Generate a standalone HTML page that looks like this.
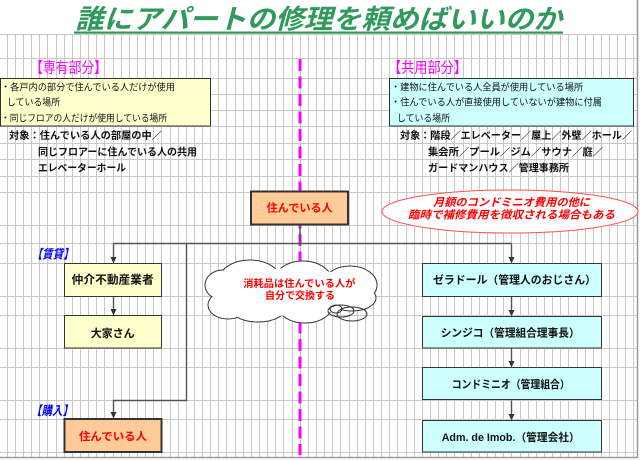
<!DOCTYPE html>
<html><head><meta charset="utf-8">
<style>
html,body{margin:0;padding:0;background:#fff;}
svg{display:block;}
text{font-family:"Liberation Sans","Noto Sans CJK JP",sans-serif;}
</style></head>
<body>
<svg width="640" height="460" viewBox="0 0 640 460" xmlns="http://www.w3.org/2000/svg">
<rect x="0" y="0" width="640" height="460" fill="#fff"/>
<!-- grid -->
<path stroke="#c8c8c8" stroke-width="1" fill="none" d="M7.5 34V457M15.5 34V457M23.5 34V457M31.5 34V457M39.5 34V457M47.5 34V457M56.5 34V457M64.5 34V457M72.5 34V457M80.5 34V457M88.5 34V457M96.5 34V457M104.5 34V457M113.5 34V457M121.5 34V457M129.5 34V457M137.5 34V457M145.5 34V457M153.5 34V457M161.5 34V457M170.5 34V457M178.5 34V457M186.5 34V457M194.5 34V457M202.5 34V457M210.5 34V457M218.5 34V457M226.5 34V457M235.5 34V457M243.5 34V457M251.5 34V457M259.5 34V457M267.5 34V457M275.5 34V457M283.5 34V457M292.5 34V457M300.5 34V457M308.5 34V457M316.5 34V457M324.5 34V457M332.5 34V457M340.5 34V457M349.5 34V457M357.5 34V457M365.5 34V457M373.5 34V457M381.5 34V457M389.5 34V457M397.5 34V457M406.5 34V457M414.5 34V457M422.5 34V457M430.5 34V457M438.5 34V457M446.5 34V457M454.5 34V457M463.5 34V457M471.5 34V457M479.5 34V457M487.5 34V457M495.5 34V457M503.5 34V457M511.5 34V457M520.5 34V457M528.5 34V457M536.5 34V457M544.5 34V457M552.5 34V457M560.5 34V457M568.5 34V457M577.5 34V457M585.5 34V457M593.5 34V457M601.5 34V457M609.5 34V457M617.5 34V457M625.5 34V457M633.5 34V457"/>
<path stroke="#c8c8c8" stroke-width="1" fill="none" d="M0 34.5H637M0 58.5H637M0 78.5H637M0 94.5H637M0 110.5H637M0 126.5H637M0 143.5H637M0 159.5H637M0 176.5H637M0 192.5H637M0 225.5H637M0 243.5H637M0 263.5H637M0 296.5H637M0 315.5H637M0 348.5H637M0 367.5H637M0 400.5H637M0 419.5H637M0 452.5H637"/>
<!-- frame -->
<path d="M637.5 0V458M0 457.5H638" stroke="#999" stroke-width="1.5" fill="none"/>

<!-- title -->
<text x="75" y="28.3" font-size="27" font-weight="bold" font-style="italic" fill="#2f9a5c" textLength="487" lengthAdjust="spacingAndGlyphs">誰にアパートの修理を頼めばいいのか</text>
<rect x="74" y="31.5" width="489" height="2.2" fill="#2f9a5c"/>

<!-- magenta dashed divider -->
<line x1="300" y1="59" x2="300" y2="455" stroke="#ff00ff" stroke-width="3" stroke-dasharray="12 5.5"/>

<!-- section labels -->
<text x="30" y="72.3" font-size="15" fill="#ff00ff" textLength="77" lengthAdjust="spacingAndGlyphs">【専有部分】</text>
<text x="388" y="72.3" font-size="15" fill="#ff00ff" textLength="79" lengthAdjust="spacingAndGlyphs">【共用部分】</text>

<!-- yellow info box -->
<rect x="0.5" y="78.5" width="210" height="47.5" fill="#ffffcc" stroke="#333" stroke-width="1"/>
<text x="1" y="90.3" font-size="9.5" fill="#111" textLength="174" lengthAdjust="spacingAndGlyphs">・各戸内の部分で住んでいる人だけが使用</text>
<text x="7" y="105.3" font-size="9.5" fill="#111" textLength="53" lengthAdjust="spacingAndGlyphs">している場所</text>
<text x="1" y="121.3" font-size="9.5" fill="#111" textLength="166" lengthAdjust="spacingAndGlyphs">・同じフロアの人だけが使用している場所</text>

<!-- cyan info box -->
<rect x="389.5" y="78.5" width="244" height="47.5" fill="#ccffff" stroke="#333" stroke-width="1"/>
<text x="391" y="90.3" font-size="9.5" fill="#111" textLength="192" lengthAdjust="spacingAndGlyphs">・建物に住んでいる人全員が使用している場所</text>
<text x="391" y="105.3" font-size="9.5" fill="#111" textLength="211" lengthAdjust="spacingAndGlyphs">・住んでいる人が直接使用していないが建物に付属</text>
<text x="397" y="121.3" font-size="9.5" fill="#111" textLength="53" lengthAdjust="spacingAndGlyphs">している場所</text>

<!-- target lists -->
<g font-size="10" font-weight="bold" fill="#111">
<text x="9" y="138.8" textLength="153" lengthAdjust="spacingAndGlyphs">対象：住んでいる人の部屋の中／</text>
<text x="38" y="155.5" textLength="159" lengthAdjust="spacingAndGlyphs">同じフロアーに住んでいる人の共用</text>
<text x="38" y="171.5" textLength="88" lengthAdjust="spacingAndGlyphs">エレベーターホール</text>
<text x="400" y="138.8" textLength="232" lengthAdjust="spacingAndGlyphs">対象：階段／エレベーター／屋上／外壁／ホール／</text>
<text x="428" y="155.5" textLength="175" lengthAdjust="spacingAndGlyphs">集会所／プール／ジム／サウナ／庭／</text>
<text x="428" y="171.5" textLength="141" lengthAdjust="spacingAndGlyphs">ガードマンハウス／管理事務所</text>
</g>

<!-- ellipse note -->
<ellipse cx="510" cy="211.5" rx="128" ry="21.5" fill="#fff" stroke="#ff5050" stroke-width="1"/>
<g font-size="11" font-weight="bold" font-style="italic" fill="#ff0000">
<text x="433" y="205.9" textLength="157" lengthAdjust="spacingAndGlyphs">月額のコンドミニオ費用の他に</text>
<text x="408" y="218.5" textLength="207" lengthAdjust="spacingAndGlyphs">臨時で補修費用を徴収される場合もある</text>
</g>

<!-- cloud -->
<g stroke="#333" stroke-width="1" fill="#fff">
<ellipse cx="250" cy="282" rx="32" ry="22"/>
<ellipse cx="303" cy="283" rx="30" ry="22"/>
<ellipse cx="350" cy="285" rx="27" ry="19"/>
<ellipse cx="223" cy="285" rx="18" ry="15"/>
<ellipse cx="228" cy="305" rx="20" ry="14"/>
<ellipse cx="258" cy="305" rx="30" ry="17"/>
<ellipse cx="305" cy="306" rx="27" ry="17"/>
<ellipse cx="352" cy="298" rx="24" ry="13"/>
</g>
<g fill="#fff">
<ellipse cx="250" cy="282" rx="31.3" ry="21.3"/>
<ellipse cx="303" cy="283" rx="29.3" ry="21.3"/>
<ellipse cx="350" cy="285" rx="26.3" ry="18.3"/>
<ellipse cx="223" cy="285" rx="17.3" ry="14.3"/>
<ellipse cx="228" cy="305" rx="19.3" ry="13.3"/>
<ellipse cx="258" cy="305" rx="29.3" ry="16.3"/>
<ellipse cx="305" cy="306" rx="26.3" ry="16.3"/>
<ellipse cx="352" cy="298" rx="23.3" ry="12.3"/>
<ellipse cx="292" cy="292" rx="70" ry="24"/>
</g>
<g stroke="#333" stroke-width="1" fill="none">
<ellipse cx="341" cy="311" rx="13" ry="6"/>
<ellipse cx="352" cy="314" rx="15" ry="7"/>
<ellipse cx="336" cy="309" rx="6" ry="4"/>
</g>
<g font-size="10" font-weight="bold" fill="#ff0000">
<text x="243.3" y="287.1" textLength="112" lengthAdjust="spacingAndGlyphs">消耗品は住んでいる人が</text>
<text x="265" y="298.8" textLength="70" lengthAdjust="spacingAndGlyphs">自分で交換する</text>
</g>

<!-- connectors -->
<g stroke="#555" stroke-width="1.4" fill="none">
<path d="M300 225V243.5"/>
<path d="M113.5 243.5H511.5"/>
<path d="M113.5 243.5V258"/>
<path d="M511.5 243.5V258"/>
<path d="M186.5 243.5V400.5H113.5V413"/>
<path d="M113.5 296.5V310"/>
<path d="M511.5 296.5V311"/>
<path d="M511.5 348V362"/>
<path d="M511.5 400.5V415"/>
</g>
<g fill="#333">
<polygon points="110.5,257 116.5,257 113.5,263.5"/>
<polygon points="508.5,257 514.5,257 511.5,263.5"/>
<polygon points="110.5,412 116.5,412 113.5,418.5"/>
<polygon points="110.5,309 116.5,309 113.5,315.5"/>
<polygon points="508.5,310 514.5,310 511.5,316.5"/>
<polygon points="508.5,361 514.5,361 511.5,367.5"/>
<polygon points="508.5,414 514.5,414 511.5,420.5"/>
</g>

<!-- center box -->
<rect x="251" y="191.5" width="97" height="33" fill="#ffcc99" stroke="#333" stroke-width="2"/>
<text x="266.7" y="211.5" font-size="11" font-weight="bold" fill="#ff0000" textLength="66" lengthAdjust="spacingAndGlyphs">住んでいる人</text>

<!-- left boxes -->
<rect x="64.5" y="263.5" width="97" height="33" fill="#ffffcc" stroke="#333" stroke-width="1"/>
<text x="71.7" y="283.7" font-size="11.5" font-weight="bold" fill="#111" textLength="82" lengthAdjust="spacingAndGlyphs">仲介不動産業者</text>
<rect x="64.5" y="315.5" width="97" height="32.5" fill="#ffffcc" stroke="#333" stroke-width="1"/>
<text x="90.7" y="336.9" font-size="11" font-weight="bold" fill="#111" textLength="44" lengthAdjust="spacingAndGlyphs">大家さん</text>
<rect x="64.5" y="419" width="97" height="33" fill="#ffcc99" stroke="#333" stroke-width="2"/>
<text x="79" y="440.2" font-size="11" font-weight="bold" fill="#ff0000" textLength="68" lengthAdjust="spacingAndGlyphs">住んでいる人</text>

<!-- blue labels -->
<g font-size="12.5" font-weight="bold" font-style="italic" fill="#0000ff">
<text x="31.7" y="258.7" textLength="42" lengthAdjust="spacingAndGlyphs">【賃貸】</text>
<text x="31" y="415.2" textLength="42" lengthAdjust="spacingAndGlyphs">【購入】</text>
</g>

<!-- right boxes -->
<g fill="#ccffff" stroke="#333" stroke-width="1">
<rect x="422.5" y="263.5" width="179" height="33"/>
<rect x="422.5" y="316.5" width="179" height="31.5"/>
<rect x="422.5" y="367.5" width="179" height="32"/>
<rect x="422.5" y="420.5" width="179" height="31.5"/>
</g>
<g font-size="11" font-weight="bold" fill="#111">
<text x="433" y="283.5" textLength="163" lengthAdjust="spacingAndGlyphs">ゼラドール（管理人のおじさん）</text>
<text x="440.7" y="336.5" textLength="139" lengthAdjust="spacingAndGlyphs">シンジコ（管理組合理事長）</text>
<text x="451.7" y="388.2" textLength="118" lengthAdjust="spacingAndGlyphs">コンドミニオ（管理組合）</text>
<text x="441.7" y="440.9" textLength="138" lengthAdjust="spacingAndGlyphs">Adm. de Imob.（管理会社）</text>
</g>
</svg>
</body></html>
